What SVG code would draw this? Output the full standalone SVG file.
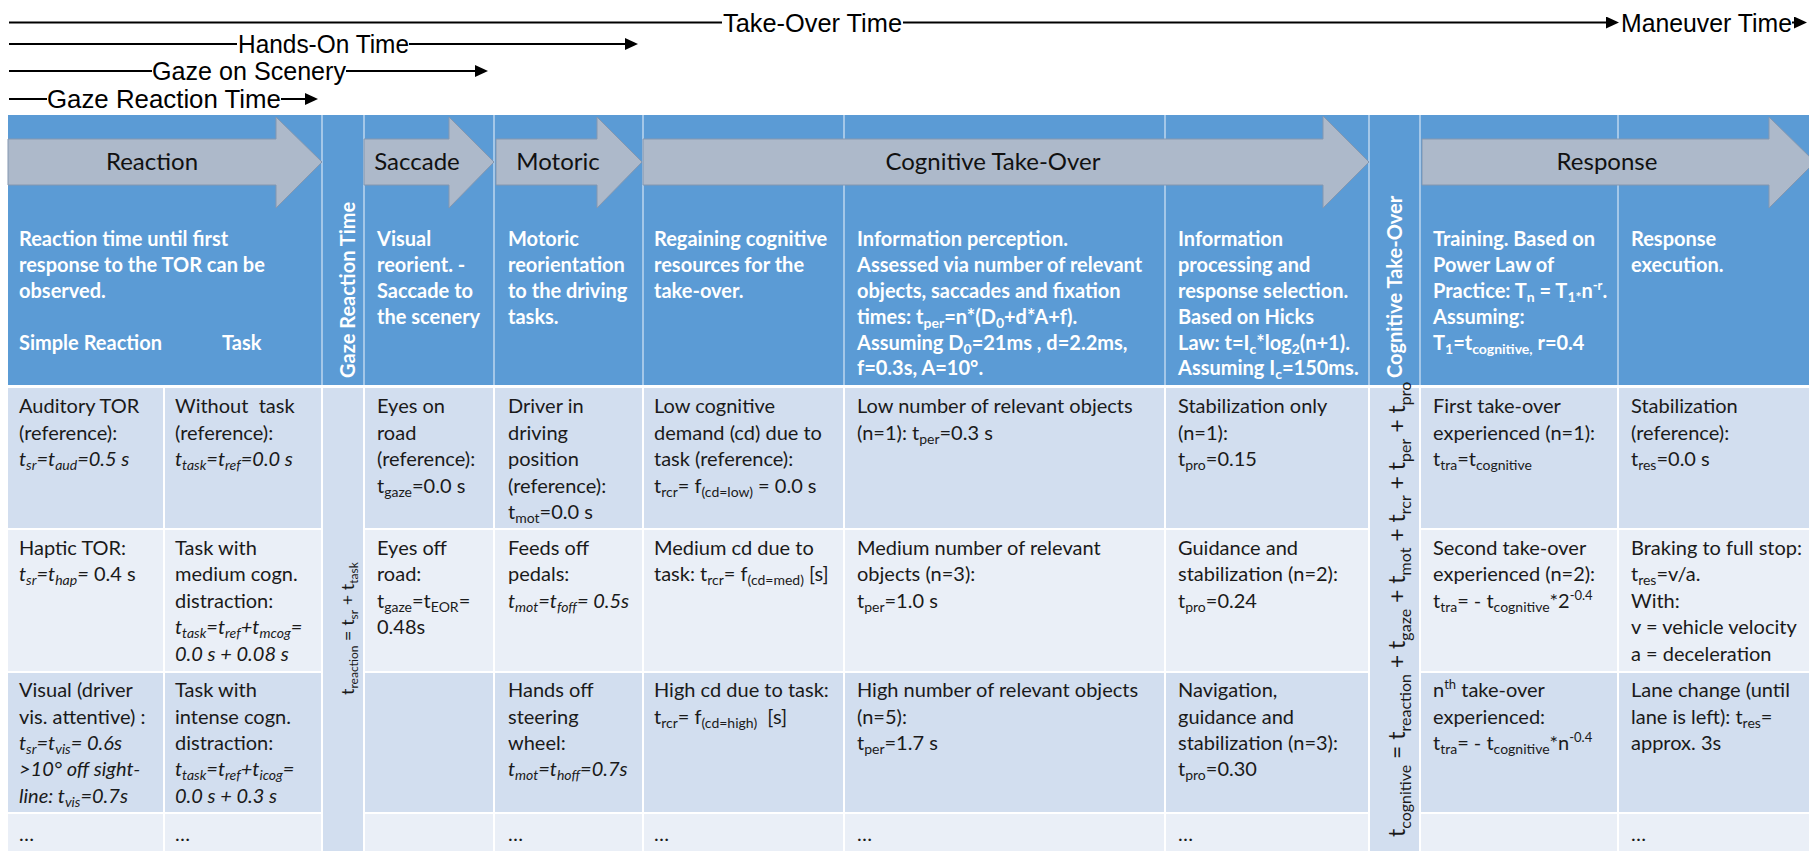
<svg xmlns="http://www.w3.org/2000/svg" width="1809" height="851" viewBox="0 0 1809 851">
<defs>
<style>
.t{font-family:Lato,'Open Sans',sans-serif;font-size:20px;fill:#1a1a1a}
.h{font-family:Lato,'Open Sans',sans-serif;font-size:20px;font-weight:700;fill:#fff}
.al{font-family:Lato,'Open Sans',sans-serif;font-size:24px;fill:#111;text-anchor:middle}
.tl{font-family:'Liberation Sans',Arial,sans-serif;font-size:25px;fill:#000}
.i{font-style:italic}
.n{font-style:normal}
.s{font-size:14px;baseline-shift:-4px}
.u{font-size:13px;baseline-shift:8px}
.ln{stroke:#000;stroke-width:2;fill:none}
.arr{fill:#adb9ca;stroke:#8497b0;stroke-width:1}
.b1{fill:#d2deef}
.b2{fill:#eaeff7}
.hg{stroke:#fff;stroke-opacity:0.6;stroke-width:1.5}
.bg{stroke:#fff;stroke-width:2}
.fg{font-family:Lato,'Open Sans',sans-serif;font-size:18px;fill:#1a1a1a}
.fs{font-size:12px;baseline-shift:-4px}
.fc{font-family:Lato,'Open Sans',sans-serif;font-size:23px;fill:#1a1a1a}
.fcs{font-size:16px;baseline-shift:-6px}
</style>
<marker id="ah" viewBox="0 0 13 12" refX="5" refY="6" markerWidth="13" markerHeight="12" markerUnits="userSpaceOnUse" orient="auto">
<path d="M0,0 L13,6 L0,12 z" fill="#000"/>
</marker>
</defs>
<rect width="1809" height="851" fill="#fff"/>

<g id="timelines">
<line class="ln" x1="9" y1="22.5" x2="722" y2="22.5"/>
<text class="tl" x="723" y="31.5" textLength="179" lengthAdjust="spacingAndGlyphs">Take-Over Time</text>
<line class="ln" x1="903" y1="22.5" x2="1611" y2="22.5" marker-end="url(#ah)"/>
<text class="tl" x="1621" y="31.5" textLength="171" lengthAdjust="spacingAndGlyphs">Maneuver Time</text>
<line class="ln" x1="1792" y1="22.5" x2="1799" y2="22.5" marker-end="url(#ah)"/>
<line class="ln" x1="9" y1="44" x2="237" y2="44"/>
<text class="tl" x="238" y="53" textLength="171" lengthAdjust="spacingAndGlyphs">Hands-On Time</text>
<line class="ln" x1="409" y1="44" x2="630" y2="44" marker-end="url(#ah)"/>
<line class="ln" x1="9" y1="71" x2="152" y2="71"/>
<text class="tl" x="152" y="80" textLength="194" lengthAdjust="spacingAndGlyphs">Gaze on Scenery</text>
<line class="ln" x1="346" y1="71" x2="480" y2="71" marker-end="url(#ah)"/>
<line class="ln" x1="9" y1="99" x2="47" y2="99"/>
<text class="tl" x="47" y="108" textLength="234" lengthAdjust="spacingAndGlyphs">Gaze Reaction Time</text>
<line class="ln" x1="281" y1="99" x2="310" y2="99" marker-end="url(#ah)"/>
</g>

<g id="table-bg">
<rect x="8" y="115" width="1801" height="270" fill="#5b9bd5"/>
<rect class="b1" x="8" y="388" width="1801" height="140"/>
<rect class="b2" x="8" y="530" width="1801" height="141"/>
<rect class="b1" x="8" y="673" width="1801" height="139"/>
<rect class="b2" x="8" y="814" width="1801" height="37"/>
<g class="hg">
<line x1="322" y1="115" x2="322" y2="385"/><line x1="364" y1="115" x2="364" y2="385"/>
<line x1="494" y1="115" x2="494" y2="385"/><line x1="643" y1="115" x2="643" y2="385"/>
<line x1="844" y1="115" x2="844" y2="385"/><line x1="1165" y1="115" x2="1165" y2="385"/>
<line x1="1369" y1="115" x2="1369" y2="385"/><line x1="1420" y1="115" x2="1420" y2="385"/>
<line x1="1618" y1="115" x2="1618" y2="385"/>
</g>
<g class="bg">
<line x1="164" y1="388" x2="164" y2="851"/><line x1="494" y1="388" x2="494" y2="851"/>
<line x1="643" y1="388" x2="643" y2="851"/><line x1="844" y1="388" x2="844" y2="851"/>
<line x1="1165" y1="388" x2="1165" y2="851"/><line x1="1618" y1="388" x2="1618" y2="851"/>
</g>
<rect class="b1" x="323" y="388" width="40" height="463"/>
<rect class="b1" x="1370" y="388" width="49" height="463"/>
<g class="bg">
<line x1="322" y1="388" x2="322" y2="851"/><line x1="364" y1="388" x2="364" y2="851"/>
<line x1="1369" y1="388" x2="1369" y2="851"/><line x1="1420" y1="388" x2="1420" y2="851"/>
</g>
</g>

<g id="arrow-reaction">
<polygon class="arr" points="8,139 276,139 276,117 322,162 276,208 276,185 8,185"/>
<text class="al" x="152" y="170">Reaction</text>
</g>
<g id="arrow-saccade">
<polygon class="arr" points="364,139 449,139 449,117 494,162 449,208 449,185 364,185"/>
<text class="al" x="417" y="170">Saccade</text>
</g>
<g id="arrow-motoric">
<polygon class="arr" points="496,139 597,139 597,117 642,162 597,208 597,185 496,185"/>
<text class="al" x="558" y="170">Motoric</text>
</g>
<g id="arrow-cognitive">
<polygon class="arr" points="643,139 1323,139 1323,116 1369,162 1323,208 1323,185 643,185"/>
<text class="al" x="993" y="170">Cognitive Take-Over</text>
</g>
<g id="arrow-response">
<polygon class="arr" points="1422,139 1769,139 1769,117 1815,162 1769,208 1769,185 1422,185"/>
<text class="al" x="1607" y="170">Response</text>
</g>

<g id="head-reaction">
<text class="h" x="19" y="246">Reaction time until first</text>
<text class="h" x="19" y="272">response to the TOR can be</text>
<text class="h" x="19" y="298">observed.</text>
<text class="h" x="19" y="350">Simple Reaction</text>
<text class="h" x="222" y="350">Task</text>
</g>
<g id="head-gaze-reaction">
<text class="h" transform="translate(355,378) rotate(-90)">Gaze Reaction Time</text>
</g>
<g id="head-saccade">
<text class="h" x="377" y="246">Visual</text>
<text class="h" x="377" y="272">reorient. -</text>
<text class="h" x="377" y="298">Saccade to</text>
<text class="h" x="377" y="324">the scenery</text>
</g>
<g id="head-motoric">
<text class="h" x="508" y="246">Motoric</text>
<text class="h" x="508" y="272">reorientation</text>
<text class="h" x="508" y="298">to the driving</text>
<text class="h" x="508" y="324">tasks.</text>
</g>
<g id="head-regaining">
<text class="h" x="654" y="246">Regaining cognitive</text>
<text class="h" x="654" y="272">resources for the</text>
<text class="h" x="654" y="298">take-over.</text>
</g>
<g id="head-perception">
<text class="h" x="857" y="246">Information perception.</text>
<text class="h" x="857" y="272">Assessed via number of relevant</text>
<text class="h" x="857" y="298">objects, saccades and fixation</text>
<text class="h" x="857" y="324">times: t<tspan class="s">per</tspan>=n*(D<tspan class="s">0</tspan>+d*A+f).</text>
<text class="h" x="857" y="350">Assuming D<tspan class="s">0</tspan>=21ms , d=2.2ms,</text>
<text class="h" x="857" y="375">f=0.3s, A=10°.</text>
</g>
<g id="head-processing">
<text class="h" x="1178" y="246">Information</text>
<text class="h" x="1178" y="272">processing and</text>
<text class="h" x="1178" y="298">response selection.</text>
<text class="h" x="1178" y="324">Based on Hicks</text>
<text class="h" x="1178" y="350">Law: t=I<tspan class="s">c</tspan>*log<tspan class="s">2</tspan>(n+1).</text>
<text class="h" x="1178" y="375">Assuming I<tspan class="s">c</tspan>=150ms.</text>
</g>
<g id="head-cognitive">
<text class="h" transform="translate(1402,378) rotate(-90)">Cognitive Take-Over</text>
</g>
<g id="head-training">
<text class="h" x="1433" y="246">Training. Based on</text>
<text class="h" x="1433" y="272">Power Law of</text>
<text class="h" x="1433" y="298">Practice: T<tspan class="s">n</tspan> = T<tspan class="s">1*</tspan>n<tspan class="u">-r</tspan>.</text>
<text class="h" x="1433" y="324">Assuming:</text>
<text class="h" x="1433" y="350">T<tspan class="s">1</tspan>=t<tspan class="s">cognitive,</tspan> r=0.4</text>
</g>
<g id="head-response">
<text class="h" x="1631" y="246">Response</text>
<text class="h" x="1631" y="272">execution.</text>
</g>

<g id="col-simple-reaction">
<text class="t" x="19" y="413">Auditory TOR</text>
<text class="t" x="19" y="440">(reference):</text>
<text class="t i" x="19" y="466">t<tspan class="s">sr</tspan>=t<tspan class="s">aud</tspan>=0.5 s</text>
<text class="t" x="19" y="555">Haptic TOR:</text>
<text class="t i" x="19" y="581">t<tspan class="s">sr</tspan>=t<tspan class="s">hap</tspan>=<tspan class="n"> 0.4 s</tspan></text>
<text class="t" x="19" y="697">Visual (driver</text>
<text class="t" x="19" y="724">vis. attentive) :</text>
<text class="t i" x="19" y="750">t<tspan class="s">sr</tspan>=t<tspan class="s">vis</tspan>= 0.6s</text>
<text class="t i" x="19" y="776">&gt;10° off sight-</text>
<text class="t i" x="19" y="803">line: t<tspan class="s">vis</tspan>=0.7s</text>
<text class="t" x="19" y="841">…</text>
</g>
<g id="col-task">
<text class="t" x="175" y="413">Without&#160; task</text>
<text class="t" x="175" y="440">(reference):</text>
<text class="t i" x="175" y="466">t<tspan class="s">task</tspan>=t<tspan class="s">ref</tspan>=0.0 s</text>
<text class="t" x="175" y="555">Task with</text>
<text class="t" x="175" y="581">medium cogn.</text>
<text class="t" x="175" y="608">distraction:</text>
<text class="t i" x="175" y="634">t<tspan class="s">task</tspan>=t<tspan class="s">ref</tspan>+t<tspan class="s">mcog</tspan>=</text>
<text class="t i" x="175" y="661">0.0 s + 0.08 s</text>
<text class="t" x="175" y="697">Task with</text>
<text class="t" x="175" y="724">intense cogn.</text>
<text class="t" x="175" y="750">distraction:</text>
<text class="t i" x="175" y="776">t<tspan class="s">task</tspan>=t<tspan class="s">ref</tspan>+t<tspan class="s">icog</tspan>=</text>
<text class="t i" x="175" y="803">0.0 s + 0.3 s</text>
<text class="t" x="175" y="841">…</text>
</g>
<g id="col-gaze-formula">
<text class="fg" transform="translate(354,695) rotate(-90)">t<tspan class="fs">reaction</tspan> = t<tspan class="fs">sr</tspan> + t<tspan class="fs">task</tspan></text>
</g>
<g id="col-saccade">
<text class="t" x="377" y="413">Eyes on</text>
<text class="t" x="377" y="440">road</text>
<text class="t" x="377" y="466">(reference):</text>
<text class="t" x="377" y="493">t<tspan class="s">gaze</tspan>=0.0 s</text>
<text class="t" x="377" y="555">Eyes off</text>
<text class="t" x="377" y="581">road:</text>
<text class="t" x="377" y="608">t<tspan class="s">gaze</tspan>=t<tspan class="s">EOR</tspan>=</text>
<text class="t" x="377" y="634">0.48s</text>
</g>
<g id="col-motoric">
<text class="t" x="508" y="413">Driver in</text>
<text class="t" x="508" y="440">driving</text>
<text class="t" x="508" y="466">position</text>
<text class="t" x="508" y="493">(reference):</text>
<text class="t" x="508" y="519">t<tspan class="s">mot</tspan>=0.0 s</text>
<text class="t" x="508" y="555">Feeds off</text>
<text class="t" x="508" y="581">pedals:</text>
<text class="t i" x="508" y="608">t<tspan class="s">mot</tspan>=t<tspan class="s">foff</tspan>= 0.5s</text>
<text class="t" x="508" y="697">Hands off</text>
<text class="t" x="508" y="724">steering</text>
<text class="t" x="508" y="750">wheel:</text>
<text class="t i" x="508" y="776">t<tspan class="s">mot</tspan>=t<tspan class="s">hoff</tspan>=0.7s</text>
<text class="t" x="508" y="841">…</text>
</g>
<g id="col-regaining">
<text class="t" x="654" y="413">Low cognitive</text>
<text class="t" x="654" y="440">demand (cd) due to</text>
<text class="t" x="654" y="466">task (reference):</text>
<text class="t" x="654" y="493">t<tspan class="s">rcr</tspan>= f<tspan class="s">(cd=low)</tspan> = 0.0 s</text>
<text class="t" x="654" y="555">Medium cd due to</text>
<text class="t" x="654" y="581">task: t<tspan class="s">rcr</tspan>= f<tspan class="s">(cd=med)</tspan> [s]</text>
<text class="t" x="654" y="697">High cd due to task:</text>
<text class="t" x="654" y="724">t<tspan class="s">rcr</tspan>= f<tspan class="s">(cd=high)</tspan>&#160; [s]</text>
<text class="t" x="654" y="841">…</text>
</g>
<g id="col-perception">
<text class="t" x="857" y="413">Low number of relevant objects</text>
<text class="t" x="857" y="440">(n=1): t<tspan class="s">per</tspan>=0.3 s</text>
<text class="t" x="857" y="555">Medium number of relevant</text>
<text class="t" x="857" y="581">objects (n=3):</text>
<text class="t" x="857" y="608">t<tspan class="s">per</tspan>=1.0 s</text>
<text class="t" x="857" y="697">High number of relevant objects</text>
<text class="t" x="857" y="724">(n=5):</text>
<text class="t" x="857" y="750">t<tspan class="s">per</tspan>=1.7 s</text>
<text class="t" x="857" y="841">…</text>
</g>
<g id="col-processing">
<text class="t" x="1178" y="413">Stabilization only</text>
<text class="t" x="1178" y="440">(n=1):</text>
<text class="t" x="1178" y="466">t<tspan class="s">pro</tspan>=0.15</text>
<text class="t" x="1178" y="555">Guidance and</text>
<text class="t" x="1178" y="581">stabilization (n=2):</text>
<text class="t" x="1178" y="608">t<tspan class="s">pro</tspan>=0.24</text>
<text class="t" x="1178" y="697">Navigation,</text>
<text class="t" x="1178" y="724">guidance and</text>
<text class="t" x="1178" y="750">stabilization (n=3):</text>
<text class="t" x="1178" y="776">t<tspan class="s">pro</tspan>=0.30</text>
<text class="t" x="1178" y="841">…</text>
</g>
<g id="col-cognitive-formula">
<text class="fc" transform="translate(1405,837) rotate(-90)">t<tspan class="fcs">cognitive</tspan> = t<tspan class="fcs">reaction</tspan> + t<tspan class="fcs">gaze</tspan> + t<tspan class="fcs">mot</tspan> + t<tspan class="fcs">rcr</tspan> + t<tspan class="fcs">per</tspan> + t<tspan class="fcs">pro</tspan></text>
</g>
<g id="col-training">
<text class="t" x="1433" y="413">First take-over</text>
<text class="t" x="1433" y="440">experienced (n=1):</text>
<text class="t" x="1433" y="466">t<tspan class="s">tra</tspan>=t<tspan class="s">cognitive</tspan></text>
<text class="t" x="1433" y="555">Second take-over</text>
<text class="t" x="1433" y="581">experienced (n=2):</text>
<text class="t" x="1433" y="608">t<tspan class="s">tra</tspan>= - t<tspan class="s">cognitive</tspan>*2<tspan class="u">-0.4</tspan></text>
<text class="t" x="1433" y="697">n<tspan class="u">th</tspan> take-over</text>
<text class="t" x="1433" y="724">experienced:</text>
<text class="t" x="1433" y="750">t<tspan class="s">tra</tspan>= - t<tspan class="s">cognitive</tspan>*n<tspan class="u">-0.4</tspan></text>
</g>
<g id="col-response">
<text class="t" x="1631" y="413">Stabilization</text>
<text class="t" x="1631" y="440">(reference):</text>
<text class="t" x="1631" y="466">t<tspan class="s">res</tspan>=0.0 s</text>
<text class="t" x="1631" y="555">Braking to full stop:</text>
<text class="t" x="1631" y="581">t<tspan class="s">res</tspan>=v/a.</text>
<text class="t" x="1631" y="608">With:</text>
<text class="t" x="1631" y="634">v = vehicle velocity</text>
<text class="t" x="1631" y="661">a = deceleration</text>
<text class="t" x="1631" y="697">Lane change (until</text>
<text class="t" x="1631" y="724">lane is left): t<tspan class="s">res</tspan>=</text>
<text class="t" x="1631" y="750">approx. 3s</text>
<text class="t" x="1631" y="841">…</text>
</g>
</svg>
